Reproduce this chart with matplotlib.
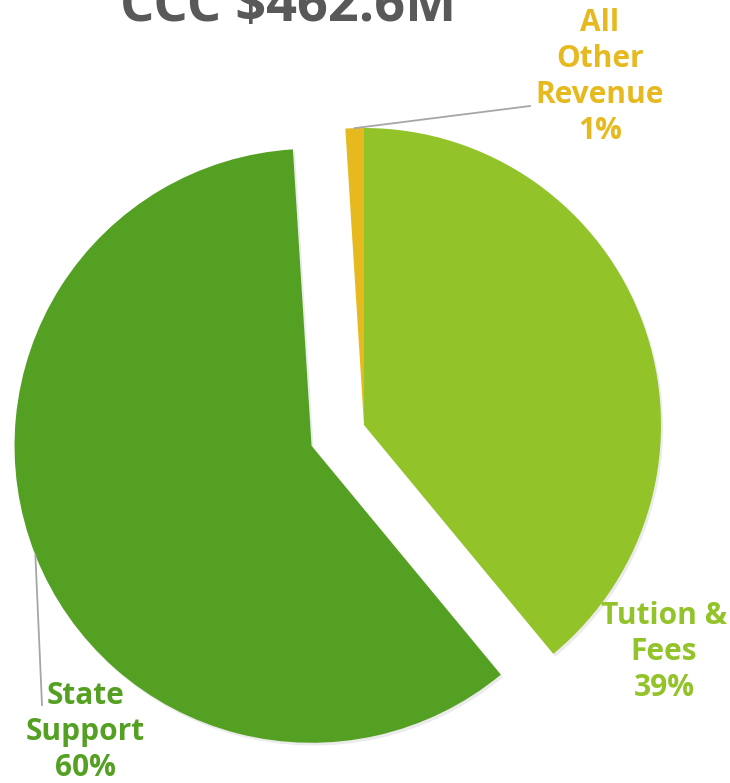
import numpy as np
import matplotlib.pyplot as plt
from matplotlib import patheffects as pe

# data
labels = ['Tution &\nFees', 'State\nSupport', 'All\nOther\nRevenue']
values = [39, 60, 1]
colors = ['#92C328', '#54A023', '#E6B91E']
explode = [0, 0.19, 0]
title = 'CCC $462.6M'

FONT = 'Open Sans'
R_PX = 297.0
CX, CY = 364.0, 425.0
W, H = 730, 783


def px(x, y):
    # pixel position -> data coords (pie radius = 1)
    return (x - CX) / R_PX, (CY - y) / R_PX


fig = plt.figure(figsize=(W / 100, H / 100), dpi=100)
ax = fig.add_axes([0, 0, 1, 1])

wedges, _ = ax.pie(values, colors=colors, explode=explode, startangle=90,
                   counterclock=False, radius=1,
                   wedgeprops=dict(linewidth=0))
for w in wedges[:2]:
    w.set_path_effects([pe.SimplePatchShadow(offset=(1.5, -2), alpha=0.08, shadow_rgbFace='k'),
                        pe.Normal()])

ax.set_aspect('auto')
x0, y0 = px(0, H)
x1, y1 = px(W, 0)
ax.set_xlim(x0, x1)
ax.set_ylim(y0, y1)
ax.axis('off')


def anchor(w):
    mid = np.deg2rad((w.theta1 + w.theta2) / 2)
    cx, cy = w.center
    return cx + w.r * np.cos(mid), cy + w.r * np.sin(mid)


lc = '#A6A6A6'
# All Other Revenue leader
ax_, ay_ = anchor(wedges[2])
ex, ey = px(530, 106)
ax.plot([ax_, ex], [ay_, ey], color=lc, lw=1.3)
# State Support leader
sx, sy = anchor(wedges[1])
ex2, ey2 = px(42, 705)
ax.plot([sx, ex2], [sy, ey2], color=lc, lw=1.3)

pct = ['%d%%' % v for v in values]
lab_pos = [px(664, 652), px(85, 732), px(600, 77)]
for lab, p, pos, c in zip(labels, pct, lab_pos, colors):
    ax.text(pos[0], pos[1], lab + '\n' + p, ha='center', va='center',
            color=c, fontsize=21.5, fontweight='bold', family=FONT,
            linespacing=1.25)

tx, ty = px(288, 21)
ax.text(tx, ty, title, ha='center', va='baseline', color='#595959',
        fontsize=39, fontweight='bold', family=FONT)

fig.savefig('out.png', dpi=100)
